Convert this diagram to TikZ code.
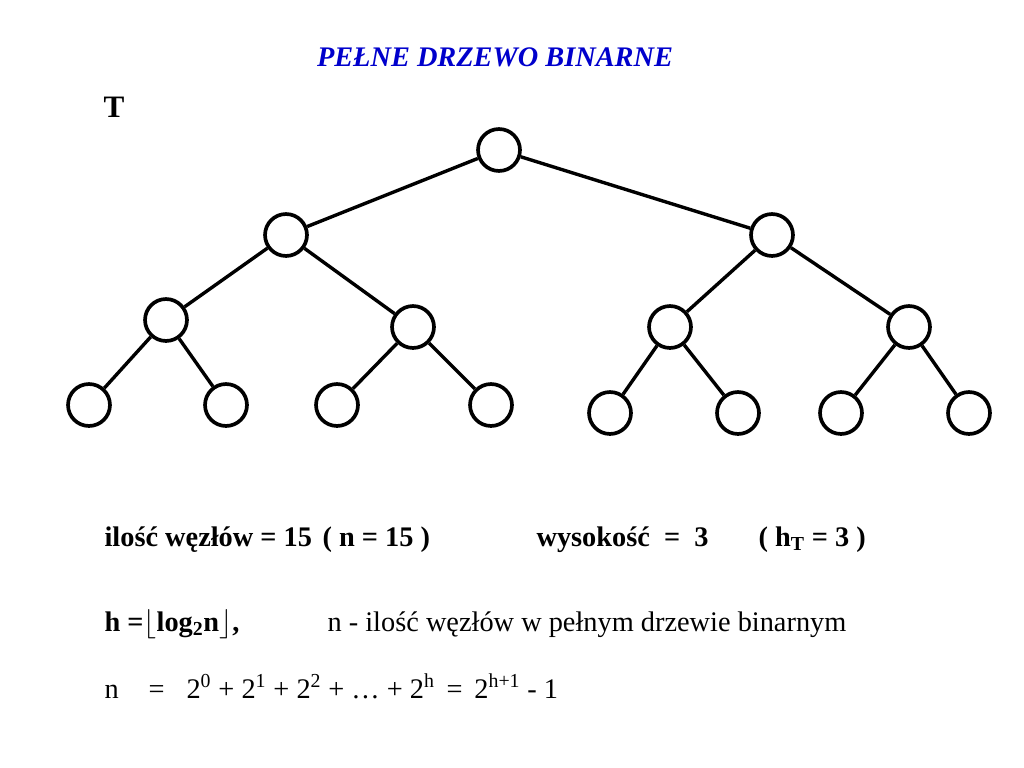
\documentclass[tikz,border=0pt]{standalone}
\usepackage{fontspec}
\setmainfont{Liberation Serif}
\usepackage{tikz}

\definecolor{titleblue}{RGB}{0,0,204}

\begin{document}
\begin{tikzpicture}[x=0.0248cm,y=-0.0248cm,thick,
                    tree node/.style={circle,draw,line width=2.6pt,minimum size=1.04cm,inner sep=0pt},
                    tree edge/.style={draw,line width=2.4pt},
                    txt/.style={anchor=base west,inner sep=0pt,font=\fontsize{20}{24}\selectfont}]
  \useasboundingbox (0,0) rectangle (1024,768);

  \node[anchor=base,inner sep=0pt,text=titleblue,font=\fontsize{20}{24}\selectfont\bfseries\itshape] (title) at (495,67) {PEŁNE DRZEWO BINARNE};
  \node[anchor=base west,inner sep=0pt,font=\fontsize{22}{26}\selectfont\bfseries] (T) at (103,118) {T};

  % drzewo
  \node[tree node] (r) at (499,150) {};
  \node[tree node] (a) at (286,235) {};
  \node[tree node] (b) at (772,235) {};
  \node[tree node] (aa) at (166,320) {};
  \node[tree node] (ab) at (413,327) {};
  \node[tree node] (ba) at (670,327) {};
  \node[tree node] (bb) at (909,327) {};
  \node[tree node] (aaa) at (89,405) {};
  \node[tree node] (aab) at (226,405) {};
  \node[tree node] (aba) at (337,405) {};
  \node[tree node] (abb) at (491,405) {};
  \node[tree node] (baa) at (610,413) {};
  \node[tree node] (bab) at (738,413) {};
  \node[tree node] (bba) at (841,413) {};
  \node[tree node] (bbb) at (969,413) {};

  \path[tree edge]
    (r) edge (a)
        edge (b)
    (a) edge (aa)
        edge (ab)
    (b) edge (ba)
        edge (bb)
    (aa) edge (aaa)
         edge (aab)
    (ab) edge (aba)
         edge (abb)
    (ba) edge (baa)
         edge (bab)
    (bb) edge (bba)
         edge (bbb);

  % opis
  \node[txt,font=\fontsize{20}{24}\selectfont\bfseries] (ilosc) at (104,546) {ilość węzłów = 15};
  \node[txt,font=\fontsize{20}{24}\selectfont\bfseries] (n15) at (322,546) {( n = 15 )};
  \node[txt,font=\fontsize{20}{24}\selectfont\bfseries] (wys) at (536,546) {wysokość ~=~ 3};
  \node[txt,font=\fontsize{20}{24}\selectfont\bfseries] (hT) at (758,546) {( h\textsubscript{T} = 3 )};

  \node[txt,font=\fontsize{20}{24}\selectfont\bfseries] (hlog) at (104,631) {h =$\lfloor$log\textsubscript{2}n$\rfloor$,};
  \node[txt] (nopis) at (327,631) {n - ilość węzłów w pełnym drzewie binarnym};

  \node[txt] (n) at (104,698) {n};
  \node[txt] (eq) at (148,698) {=};
  \node[txt] (suma) at (186,698) {2\textsuperscript{0} + 2\textsuperscript{1} + 2\textsuperscript{2} + … + 2\textsuperscript{h} \,=\, 2\textsuperscript{h+1} - 1};
\end{tikzpicture}
\end{document}
